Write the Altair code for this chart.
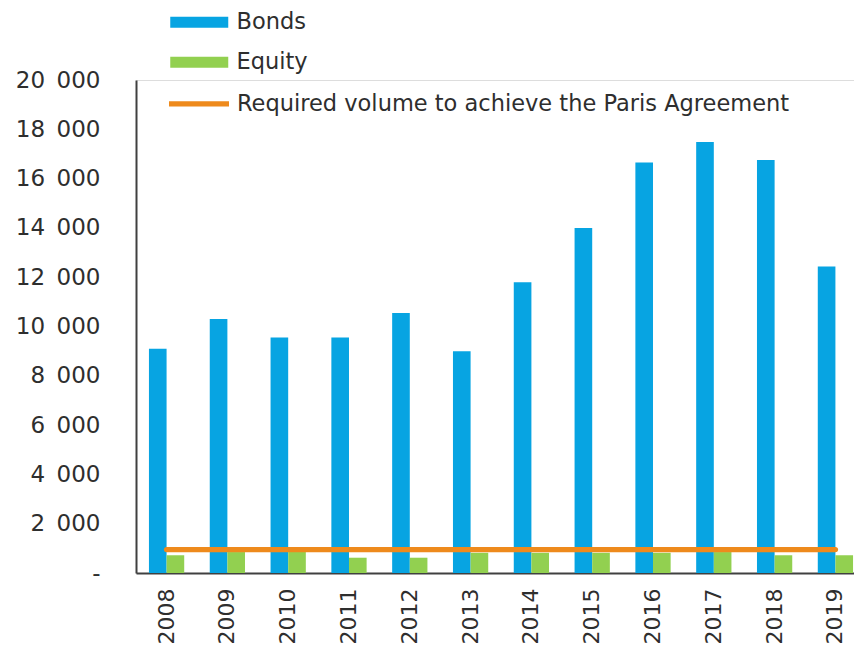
import altair as alt
import pandas as pd

years = ["2008", "2009", "2010", "2011", "2012", "2013",
         "2014", "2015", "2016", "2017", "2018", "2019"]
bonds = [9100, 10300, 9550, 9550, 10550, 9000, 11800, 14000, 16650, 17480, 16750, 12430]
equity = [720, 850, 850, 620, 620, 820, 820, 820, 820, 850, 720, 720]
required = [950, 950, 950, 950, 950, 950, 950, 950, 950, 950, 950, 950]

bar_series = ["Bonds", "Equity"]
line_series = "Required volume to achieve the Paris Agreement"
y_ticks = [0, 2000, 4000, 6000, 8000, 10000, 12000, 14000, 16000, 18000, 20000]

BLUE = "#07A4E2"
GREEN = "#92D050"
ORANGE = "#EE8A1C"
TEXT = "#2e2e2e"
FONT = "DejaVu Sans"

bars_df = pd.DataFrame({
    "year": years * 2,
    "series": [bar_series[0]] * len(years) + [bar_series[1]] * len(years),
    "value": bonds + equity,
})
line_df = pd.DataFrame({
    "year": years,
    "series": [line_series] * len(years),
    "value": required,
})

x_enc = alt.X(
    "year:N", sort=years,
    scale=alt.Scale(paddingInner=0.42, paddingOuter=0.213),
    axis=alt.Axis(title=None, labelAngle=-90, labelFontSize=22, labelFont=FONT,
                  labelColor=TEXT, labelPadding=15, ticks=False, tickSize=0, grid=False,
                  domainColor="#404040", domainWidth=2, labelOverlap=False),
)
y_enc = alt.Y(
    "value:Q",
    scale=alt.Scale(domain=[0, 20000], nice=False),
    axis=alt.Axis(title=None, values=y_ticks, grid=False, ticks=False, tickSize=0,
                  labelFontSize=23, labelFont=FONT, labelColor=TEXT, labelPadding=36,
                  domainColor="#404040", domainWidth=2,
                  labelExpr="datum.value == 0 ? '-\u2002' : replace(format(datum.value, ','), ',', '\u2002')"),
)

bars = alt.Chart(bars_df).mark_bar().encode(
    x=x_enc,
    xOffset=alt.XOffset("series:N", sort=bar_series,
                        scale=alt.Scale(paddingInner=0, paddingOuter=0)),
    y=y_enc,
    color=alt.Color(
        "series:N",
        scale=alt.Scale(domain=bar_series, range=[BLUE, GREEN]),
        legend=alt.Legend(title=None, orient="none", legendX=52, legendY=-69,
                          symbolType="M-2.9,-0.55H2.9V0.55H-2.9Z", symbolSize=400,
                          symbolStrokeWidth=0, symbolOpacity=1,
                          labelFontSize=22.5, labelFont=FONT, labelColor=TEXT,
                          labelOffset=26, labelLimit=0, rowPadding=17, padding=0),
    ),
)

line = alt.Chart(line_df).mark_line(strokeWidth=5.3, strokeCap="round").encode(
    x=x_enc,
    y=y_enc,
    stroke=alt.Stroke(
        "series:N",
        scale=alt.Scale(domain=[line_series], range=[ORANGE]),
        legend=alt.Legend(title=None, orient="none", legendX=30, legendY=-9.2,
                          symbolType="stroke", symbolSize=3600, symbolStrokeWidth=5.3,
                          labelFontSize=22.5, labelFont=FONT, labelColor=TEXT,
                          labelOffset=5, labelLimit=0, padding=0),
    ),
)

chart = alt.layer(bars, line).properties(
    width=730, height=493,
    autosize=alt.AutoSizeParams(type="none"),
    padding={"left": 128, "top": 72, "right": -12, "bottom": 70},
).configure_view(stroke="transparent", strokeWidth=0).configure_axis(grid=False).configure(font=FONT)

chart.save("out.html", embed_options={"renderer": "svg", "actions": False})
